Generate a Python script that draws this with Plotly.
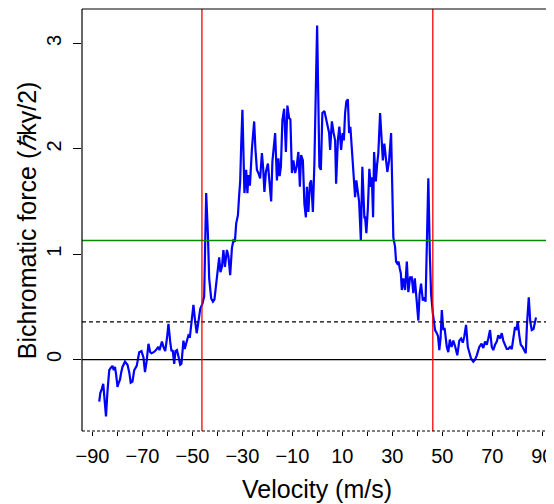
import plotly.graph_objects as go

velocity = [
    -87.3, -86.9, -86.3, -85.7, -85.1, -84.6, -84.0, -83.3, -82.7, -82.0,
    -81.5, -81.0, -80.5, -80.0, -79.5, -79.0, -78.5, -78.0, -77.0, -76.0,
    -75.3, -74.7, -74.0, -73.3, -72.3, -71.3, -70.4, -69.6, -69.0, -68.3,
    -67.6, -66.9, -66.4, -65.5, -64.6, -63.7, -63.2, -62.2, -61.6, -60.9,
    -60.2, -59.6, -58.9, -58.4, -57.9, -57.3, -56.8, -56.2, -55.5, -54.9,
    -54.4, -53.6, -53.1, -52.4, -51.6, -51.0, -50.2, -49.6, -49.0, -48.5,
    -48.3, -47.6, -46.9, -46.0, -45.3, -44.9, -44.5, -43.8, -43.3, -42.5,
    -41.8, -41.2, -40.6, -40.0, -39.3, -38.8, -38.2, -37.6, -37.0, -36.2,
    -35.6, -34.9, -34.2, -33.6, -33.0, -32.5, -31.8, -31.3, -30.9, -30.5,
    -30.0, -29.5, -29.2, -28.5, -28.0, -27.6, -27.0, -26.2, -25.3, -24.8,
    -24.2, -23.6, -22.9, -22.2, -21.7, -21.2, -20.6, -19.8, -19.2, -18.5,
    -18.0, -17.2, -16.9, -16.2, -15.6, -15.1, -14.6, -14.0, -13.3, -12.6,
    -12.0, -11.3, -10.8, -10.2, -9.6, -8.9, -8.3, -7.6, -7.0, -6.5,
    -5.8, -5.2, -4.6, -4.2, -3.6, -3.0, -2.5, -1.8, -1.2, -0.6,
    -0.1, 0.4, 0.8, 1.4, 2.0, 2.8, 3.4, 4.2, 4.7, 5.1,
    5.8, 6.5, 7.1, 7.5, 8.2, 8.8, 9.5, 10.1, 10.6, 11.1,
    11.6, 12.2, 12.7, 13.2, 13.8, 14.6, 15.1, 15.6, 16.2, 16.7,
    17.4, 18.0, 18.8, 19.1, 19.6, 20.2, 20.8, 21.4, 21.8, 22.3,
    22.7, 23.4, 23.9, 24.4, 25.1, 25.7, 26.2, 26.8, 27.4, 28.0,
    28.7, 29.5, 30.0, 30.4, 31.1, 31.5, 32.0, 32.5, 33.0, 33.4,
    33.8, 34.4, 35.1, 35.8, 36.4, 37.1, 37.8, 38.4, 39.0, 39.7,
    40.4, 40.9, 41.5, 42.2, 42.8, 43.3, 43.8, 44.4, 45.0, 45.5,
    46.2, 46.7, 47.1, 47.8, 48.3, 48.8, 49.3, 49.8, 50.4, 50.9,
    51.8, 52.4, 53.0, 53.7, 54.4, 55.2, 56.0, 56.8, 57.5, 58.2,
    58.8, 59.5, 60.2, 60.8, 61.5, 62.4, 63.1, 63.8, 64.8, 65.7,
    66.4, 67.1, 67.8, 68.4, 69.1, 69.8, 70.4, 71.1, 71.8, 72.4,
    73.1, 73.8, 74.4, 75.1, 75.8, 76.4, 77.1, 77.8, 78.4, 79.1,
    79.6, 80.2, 80.8, 81.4, 82.1, 82.7, 83.4, 83.9, 84.6, 85.2,
    85.8, 86.5, 87.1, 87.5,
]

force = [
    -0.40, -0.32, -0.28, -0.23, -0.40, -0.54, -0.30, -0.10, -0.08, -0.06,
    -0.10, -0.07, -0.15, -0.26, -0.22, -0.19, -0.12, -0.07, -0.02, -0.05,
    -0.12, -0.22, -0.21, -0.10, -0.06, 0.07, 0.08, 0.02, -0.12, -0.01,
    0.15, 0.07, 0.06, 0.07, 0.09, 0.12, 0.09, 0.17, 0.12, 0.08,
    0.20, 0.34, 0.17, 0.08, 0.09, -0.04, 0.08, 0.09, 0.02, -0.05,
    -0.04, 0.18, 0.10, 0.15, 0.23, 0.22, 0.40, 0.52, 0.38, 0.30,
    0.25, 0.36, 0.48, 0.53, 0.60, 1.10, 1.58, 1.18, 0.77, 0.58,
    0.55, 0.57, 0.71, 0.82, 0.97, 0.83, 0.88, 1.04, 0.88, 1.04,
    0.98, 0.80, 1.06, 1.13, 1.12, 1.29, 1.37, 1.56, 1.69, 2.03,
    2.37, 1.88, 1.58, 1.80, 1.58, 1.75, 1.65, 2.00, 2.26, 2.00,
    1.80, 1.77, 1.72, 1.96, 1.82, 1.59, 1.78, 1.86, 1.72, 1.50,
    1.88, 2.07, 2.15, 1.70, 1.91, 1.74, 1.83, 2.27, 2.38, 1.97,
    2.41, 2.29, 2.28, 1.77, 1.89, 1.77, 1.83, 1.97, 1.64, 1.94,
    1.89, 1.48, 1.35, 1.64, 1.40, 1.67, 1.70, 1.40, 1.86, 2.59,
    3.17, 2.43, 1.83, 1.80, 2.34, 2.36, 2.30, 2.21, 2.15, 1.99,
    2.26, 2.15, 2.08, 1.67, 2.08, 2.21, 1.99, 2.15, 2.08, 2.34,
    2.45, 2.47, 2.15, 2.21, 2.02, 1.74, 1.54, 1.70, 1.55, 1.50,
    1.13, 1.83, 1.35, 1.35, 1.20, 1.43, 1.81, 1.64, 1.73, 1.35,
    1.97, 1.69, 1.85, 1.96, 2.34, 2.08, 1.89, 2.05, 1.89, 1.78,
    1.89, 2.15, 1.61, 1.16, 1.07, 0.93, 0.91, 0.93, 0.86, 0.82,
    0.66, 0.77, 0.66, 0.93, 0.64, 0.78, 0.78, 0.63, 0.77, 0.59,
    0.37, 0.62, 0.72, 0.56, 0.59, 0.55, 1.01, 1.72, 1.01, 0.63,
    0.44, 0.31, 0.28, 0.25, 0.22, 0.09, 0.20, 0.47, 0.28, 0.30,
    0.12, 0.07, 0.19, 0.12, 0.18, 0.12, 0.04, 0.18, 0.20, 0.16,
    0.22, 0.33, 0.12, 0.07, 0.01, -0.02, 0.00, 0.04, 0.12, 0.15,
    0.11, 0.17, 0.14, 0.20, 0.28, 0.12, 0.09, 0.14, 0.17, 0.23,
    0.20, 0.25, 0.18, 0.14, 0.10, 0.10, 0.12, 0.10, 0.20, 0.31,
    0.28, 0.36, 0.23, 0.14, 0.12, 0.09, 0.06, 0.34, 0.59, 0.36,
    0.28, 0.29, 0.37, 0.40,
]

x_ticks = [-90, -80, -70, -60, -50, -40, -30, -20, -10, 0, 10, 20, 30, 40, 50, 60, 70, 80, 90]
x_ticklabels = ["\u221290", "", "\u221270", "", "\u221250", "", "\u221230", "", "\u221210", "",
                "10", "", "30", "", "50", "", "70", "", "90"]
y_ticks = [0, 1, 2, 3]
y_ticklabels = ["0", "1", "2", "3"]

red_lines = [-46.2, 46.2]
green_level = 1.13
dashed_level = 0.357
zero_level = 0.0

x_range = [-94.2, 93.5]
y_range = [-0.678, 3.327]

x_title = "Velocity (m/s)"
y_title = "Bichromatic force (<i>\u210f</i>k\u03b3/2)"

FONT = "Liberation Sans, Arial, Helvetica, sans-serif"

fig = go.Figure()
fig.add_trace(go.Scatter(
    x=velocity, y=force, mode="lines",
    line=dict(color="#0000FF", width=2.2),
    hoverinfo="skip", showlegend=False,
))

shapes = []
shapes.append(dict(type="line", xref="paper", x0=0, x1=1, yref="y", y0=zero_level, y1=zero_level,
                   line=dict(color="black", width=1.2), layer="above"))
shapes.append(dict(type="line", xref="paper", x0=0, x1=1, yref="y", y0=dashed_level, y1=dashed_level,
                   line=dict(color="black", width=1.2, dash="4px,3px"), layer="above"))
shapes.append(dict(type="line", xref="paper", x0=0, x1=1, yref="y", y0=green_level, y1=green_level,
                   line=dict(color="#008C00", width=1.3), layer="above"))
for v in red_lines:
    shapes.append(dict(type="line", xref="x", x0=v, x1=v, yref="paper", y0=0, y1=1,
                       line=dict(color="#FF0000", width=1.3), layer="above"))
box = dict(color="black", width=1.2)
shapes.append(dict(type="line", xref="paper", yref="paper", x0=0, x1=0, y0=0, y1=1, line=box, layer="above"))
shapes.append(dict(type="line", xref="paper", yref="paper", x0=0, x1=1, y0=1, y1=1, line=box, layer="above"))
shapes.append(dict(type="line", xref="paper", yref="paper", x0=1, x1=1, y0=0, y1=1, line=box, layer="above"))
shapes.append(dict(type="line", xref="paper", yref="paper", x0=0, x1=1, y0=0, y1=0,
                   line=dict(color="black", width=1.2, dash="3px,2px"), layer="above"))

annotations = [
    dict(text=x_title, xref="paper", yref="paper", x=0.5, y=-0.137,
         xanchor="center", yanchor="middle", showarrow=False,
         font=dict(size=25, family=FONT, color="black")),
    dict(text=y_title, xref="paper", yref="paper", x=-0.117, y=0.5,
         xanchor="center", yanchor="middle", textangle=-90, showarrow=False,
         font=dict(size=25, family=FONT, color="black")),
]

# The page body has an 8px default margin, so the figure is sized 546x496
# and the margins are reduced by 8px on the left/top.
fig.update_layout(
    width=546, height=496,
    margin=dict(l=74, r=3, t=1, b=73, autoexpand=False),
    paper_bgcolor="white", plot_bgcolor="white",
    font=dict(family=FONT, color="black", size=20),
    shapes=shapes,
    annotations=annotations,
    xaxis=dict(
        range=x_range, tickmode="array", tickvals=x_ticks, ticktext=x_ticklabels,
        showgrid=False, zeroline=False, showline=False, automargin=False,
        ticks="outside", ticklen=4, tickcolor="black", tickwidth=1,
        tickfont=dict(size=20, family=FONT),
        ticklabelstandoff=3,
    ),
    yaxis=dict(
        range=y_range, tickmode="array", tickvals=y_ticks, ticktext=y_ticklabels,
        showgrid=False, zeroline=False, showline=False, automargin=False,
        ticks="outside", ticklen=8, tickcolor="black", tickwidth=1,
        tickangle=-90,
        tickfont=dict(size=20, family=FONT),
        ticklabelstandoff=4,
    ),
)

fig.write_html("out.html")
